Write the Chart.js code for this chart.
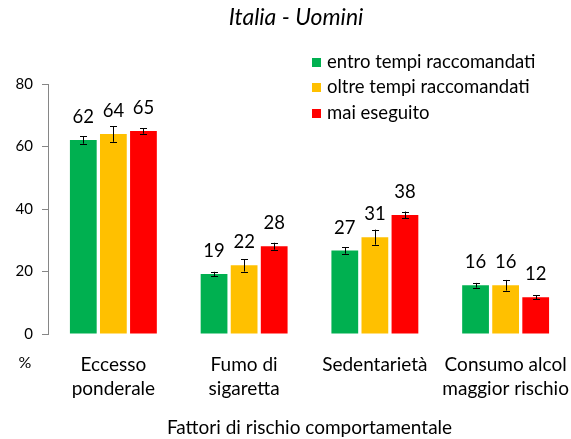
<!DOCTYPE html>
<html><head><meta charset="utf-8">
<script src="https://cdn.jsdelivr.net/npm/chart.js@4/dist/chart.umd.min.js"></script>
<style>html,body{margin:0;padding:0;background:#fff;}#wrap{width:571px;height:439px;}</style>
</head><body><div id="wrap"><canvas id="c" width="571" height="439"></canvas></div>
<script>
const categories = [["Eccesso","ponderale"],["Fumo di","sigaretta"],["Sedentarietà"],["Consumo alcol","maggior rischio"]];
const seriesNames = ["entro tempi raccomandati","oltre tempi raccomandati","mai eseguito"];
const entroValues = [62.1, 19.2, 26.7, 15.6];
const oltreValues = [64.0, 22.0, 31.0, 15.6];
const maiValues   = [65.0, 28.1, 38.1, 11.8];
const entroErr = [1.2, 0.7, 1.0, 0.75];
const oltreErr = [2.5, 2.0, 2.4, 1.7];
const maiErr   = [0.9, 1.1, 1.1, 0.65];
const yTicks = [0, 20, 40, 60, 80];
const chartTitle = "Italia - Uomini";
const xTitle = "Fattori di rischio comportamentale";
const yUnit = "%";

const FONT = "Lato, 'Liberation Sans', sans-serif";
const colors = ["#00B050", "#FFC000", "#FF0000"];
const errs = [entroErr, oltreErr, maiErr];

const decor = {
  id: 'decor',
  afterDatasetsDraw(chart) {
    const ctx = chart.ctx;
    const ys = chart.scales.y;
    ctx.save();
    chart.data.datasets.forEach((ds, i) => {
      const meta = chart.getDatasetMeta(i);
      meta.data.forEach((el, j) => {
        const v = ds.data[j], e = errs[i][j];
        const x = Math.round(el.x) + 0.5;
        const yt = ys.getPixelForValue(v + e), yb = ys.getPixelForValue(v - e);
        ctx.strokeStyle = '#000'; ctx.lineWidth = 1;
        ctx.beginPath();
        ctx.moveTo(x, yt); ctx.lineTo(x, yb);
        ctx.moveTo(x - 3.5, Math.round(yt) + 0.5); ctx.lineTo(x + 3.5, Math.round(yt) + 0.5);
        ctx.moveTo(x - 3.5, Math.round(yb) + 0.5); ctx.lineTo(x + 3.5, Math.round(yb) + 0.5);
        ctx.stroke();
        ctx.fillStyle = '#000';
        ctx.font = "18.5px " + FONT;
        ctx.textAlign = 'center'; ctx.textBaseline = 'alphabetic';
        ctx.fillText(String(Math.round(v)), el.x, el.y - 17);
      });
    });
    ctx.restore();
  },
  afterDraw(chart) {
    const ctx = chart.ctx;
    ctx.save();
    ctx.fillStyle = '#000';
    ctx.font = "italic 23px " + FONT;
    ctx.textAlign = 'center'; ctx.textBaseline = 'middle';
    ctx.fillText(chartTitle, 296, 18);
    // legend
    ctx.font = "18.5px " + FONT;
    ctx.textAlign = 'left';
    chart.data.datasets.forEach((ds, i) => {
      const cy = 62 + i * 25.5;
      ctx.fillStyle = ds.backgroundColor;
      ctx.fillRect(312, Math.round(cy - 4.5), 9, 9);
      ctx.fillStyle = '#000';
      ctx.fillText(ds.label, 327, cy);
    });
    // unit
    ctx.font = "16px " + FONT;
    ctx.textAlign = 'center';
    ctx.fillText(yUnit, 25, 363);
    ctx.restore();
  }
};

const valueSeries = [entroValues, oltreValues, maiValues];
new Chart(document.getElementById('c'), {
  type: 'bar',
  data: {
    labels: categories,
    datasets: seriesNames.map((n, i) => ({
      label: n, data: valueSeries[i], backgroundColor: colors[i],
      barPercentage: 0.89, categoryPercentage: 0.69
    }))
  },
  options: {
    responsive: false, animation: false, devicePixelRatio: 1,
    layout: { padding: { top: 84, left: 0, right: 0, bottom: 0 } },
    plugins: { legend: { display: false }, title: { display: false }, tooltip: { enabled: false } },
    scales: {
      x: {
        grid: { display: false }, border: { display: false },
        ticks: { color: '#000', padding: 11, maxRotation: 0, autoSkip: false,
                 font: { family: FONT, size: 19, lineHeight: 1.263 } },
        title: { display: true, text: xTitle, color: '#000', padding: { top: 0, bottom: 0 },
                 font: { family: FONT, size: 19, lineHeight: 1.16 } },
        afterFit(s) { s.height = 105; s.paddingLeft = 0; s.paddingRight = 0; }
      },
      y: {
        min: 0, max: 80,
        afterBuildTicks(s) { s.ticks = yTicks.map(v => ({ value: v })); },
        grid: { drawOnChartArea: false, drawTicks: true, tickLength: 6, color: '#868686' },
        border: { display: true, color: '#868686' },
        ticks: { color: '#000', padding: 9, font: { family: FONT, size: 15 } },
        afterFit(s) { s.width = 48; }
      }
    }
  },
  plugins: [decor]
});
</script></body></html>
